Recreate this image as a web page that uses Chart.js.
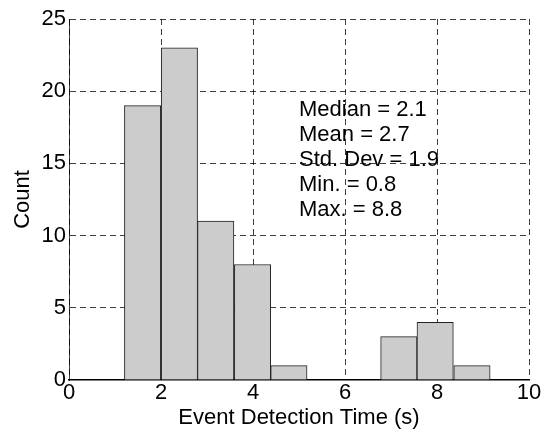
<!DOCTYPE html>
<html>
<head>
<meta charset="utf-8">
<script src="https://cdn.jsdelivr.net/npm/chart.js@4"></script>
<style>
  html, body { margin: 0; padding: 0; background: #fff; }
  #wrap { width: 544px; height: 431px; }
</style>
</head>
<body>
<div id="wrap"><canvas id="histChart" width="544" height="431"></canvas></div>
<script>
// bin centres (s) and counts
const binCenters = [1.60, 2.40, 3.19, 3.99, 4.78, 5.58, 6.37, 7.17, 7.96, 8.76];
const binCounts = [19, 23, 11, 8, 1, 0, 0, 3, 4, 1];
const xTicks = [0, 2, 4, 6, 8, 10];
const yTicks = [0, 5, 10, 15, 20, 25];
const statLines = ['Median = 2.1', 'Mean = 2.7', 'Std. Dev = 1.9', 'Min. = 0.8', 'Max. = 8.8'];

const FONT = "'Liberation Sans', Arial, sans-serif";
const FONT_SIZE = 22;
Chart.defaults.font.family = FONT;
Chart.defaults.font.size = FONT_SIZE;
Chart.defaults.color = '#000';

// stats text block drawn on top of grid + bars
const statsText = {
    id: 'statsText',
    afterDatasetsDraw(chart) {
        const ctx = chart.ctx;
        const x = chart.scales.x.getPixelForValue(5.0);
        ctx.save();
        ctx.font = FONT_SIZE + 'px ' + FONT;
        ctx.fillStyle = '#000';
        ctx.textBaseline = 'alphabetic';
        statLines.forEach((s, i) => {
            ctx.fillText(s, x, 116 + i * 25);
        });
        ctx.restore();
    }
};

const GRID_COLOR = 'rgba(0,0,0,0.75)';

const ctx = document.getElementById('histChart').getContext('2d');
new Chart(ctx, {
    type: 'bar',
    data: {
        datasets: [{
            data: binCenters.map((c, i) => ({ x: c, y: binCounts[i] })),
            backgroundColor: '#cccccc',
            borderColor: '#222',
            borderWidth: 1,
            barPercentage: 1,
            categoryPercentage: 1,
            borderSkipped: 'bottom'
        }]
    },
    options: {
        responsive: false,
        animation: false,
        layout: { padding: { top: 19, right: 15, left: 0, bottom: 0 } },
        plugins: {
            legend: { display: false },
            tooltip: { enabled: false }
        },
        scales: {
            x: {
                type: 'linear',
                min: 0,
                max: 10,
                offset: false,
                afterBuildTicks: (axis) => { axis.ticks = xTicks.map(v => ({ value: v })); },
                afterFit: (axis) => { axis.height = 51; },
                ticks: { padding: 0, maxRotation: 0 },
                grid: { color: GRID_COLOR, lineWidth: 1, drawTicks: false, offset: false },
                border: { display: true, color: '#000', width: 1.5, dash: [6, 4] },
                title: {
                    display: true,
                    text: 'Event Detection Time (s)',
                    padding: { top: 0, bottom: 0 }
                }
            },
            y: {
                min: 0,
                max: 25,
                afterBuildTicks: (axis) => { axis.ticks = yTicks.map(v => ({ value: v })); },
                afterFit: (axis) => { axis.width = 69; },
                ticks: { padding: 3 },
                grid: {
                    // skip the 0 line so the solid bottom axis stays clean
                    color: (c) => (c.tick && c.tick.value === 0) ? 'rgba(0,0,0,0)' : GRID_COLOR,
                    lineWidth: 1,
                    drawTicks: false
                },
                border: { display: true, color: GRID_COLOR, width: 1, dash: [6, 4] },
                title: {
                    display: true,
                    text: 'Count',
                    padding: { top: 10, bottom: 0 }
                }
            }
        }
    },
    plugins: [statsText]
});
</script>
</body>
</html>
